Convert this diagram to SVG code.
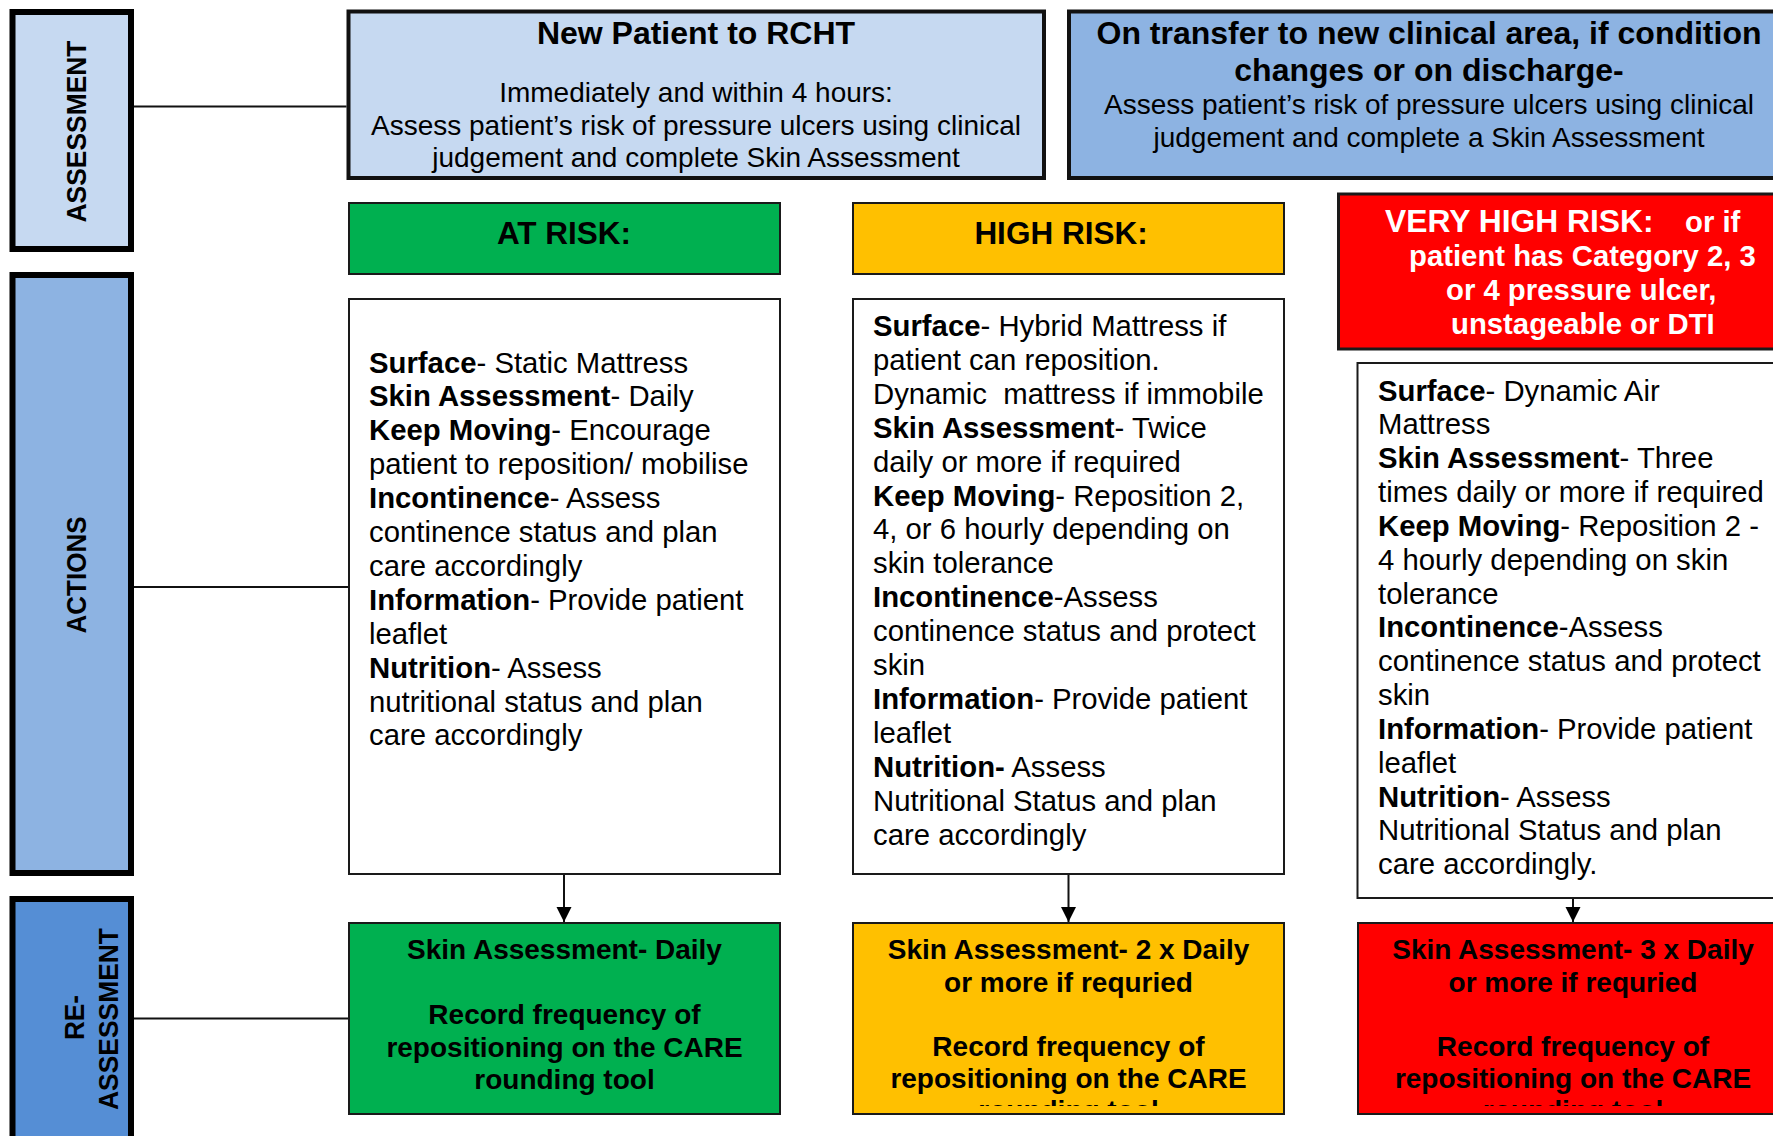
<svg xmlns="http://www.w3.org/2000/svg" width="1773" height="1136" viewBox="0 0 1773 1136">
  <style>
    text { font-family: "Liberation Sans", Arial, sans-serif; fill: #000; }
    .b { font-weight: bold; }
    .side { stroke: #000; stroke-width: 6; }
    .top { stroke: #111; stroke-width: 4; }
    .box { stroke: #1a1a1a; stroke-width: 2; }
    .lbl { font-size: 27px; font-weight: bold; text-anchor: middle; }
    .hd { font-size: 28px; text-anchor: middle; }
    .hdb { font-size: 32px; font-weight: bold; text-anchor: middle; }
    .risk { font-size: 31.5px; font-weight: bold; text-anchor: middle; }
    .body { font-size: 29.3px; }
    .out { font-size: 28px; font-weight: bold; text-anchor: middle; }
    .wh { fill: #fff; font-weight: bold; font-size: 29.3px; }
    .conn { stroke: #111; stroke-width: 2; fill: none; }
  </style>
  <defs>
    <marker id="arrow" markerUnits="userSpaceOnUse" markerWidth="16" markerHeight="16" refX="15" refY="7.5" orient="auto">
      <path d="M0,0 L15,7.5 L0,15 z" fill="#000"/>
    </marker>
    <clipPath id="clipOrange"><rect x="852" y="923" width="433" height="183"/></clipPath>
    <clipPath id="clipRed"><rect x="1357" y="923" width="430" height="183"/></clipPath>
  </defs>

  <rect width="1773" height="1136" fill="#fff"/>

  <!-- stage labels down the left edge -->
  <g id="stage-assessment">
    <rect class="side" x="12.5" y="12" width="118.5" height="237" fill="#c6d9f1"/>
    <text class="lbl" transform="translate(85.5,131.5) rotate(-90)" textLength="182" lengthAdjust="spacingAndGlyphs">ASSESSMENT</text>
  </g>
  <g id="stage-actions">
    <rect class="side" x="12.5" y="275" width="118.5" height="598" fill="#8db3e2"/>
    <text class="lbl" transform="translate(85.5,575) rotate(-90)" textLength="117" lengthAdjust="spacingAndGlyphs">ACTIONS</text>
  </g>
  <g id="stage-reassessment">
    <rect class="side" x="12.5" y="899" width="118.5" height="260" fill="#558ed5"/>
    <text class="lbl" transform="translate(84,1017.5) rotate(-90)" textLength="45" lengthAdjust="spacingAndGlyphs">RE-</text>
    <text class="lbl" transform="translate(117.5,1019) rotate(-90)" textLength="182" lengthAdjust="spacingAndGlyphs">ASSESSMENT</text>
  </g>

  <!-- assessment triggers -->
  <g id="new-patient">
    <rect class="top" x="348.5" y="11.5" width="695.5" height="166.5" fill="#c6d9f1"/>
    <text class="hdb" x="696" y="44">New Patient to RCHT</text>
    <text class="hd" x="696" y="102">Immediately and within 4 hours:</text>
    <text class="hd" x="696" y="134.5">Assess patient’s risk of pressure ulcers using clinical</text>
    <text class="hd" x="696" y="166.5">judgement and complete Skin Assessment</text>
  </g>
  <g id="transfer">
    <rect class="top" x="1069" y="11.5" width="720" height="166.5" fill="#8db3e2"/>
    <text class="hdb" x="1429" y="44">On transfer to new clinical area, if condition</text>
    <text class="hdb" x="1429" y="80.5">changes or on discharge-</text>
    <text class="hd" x="1429" y="114">Assess patient’s risk of pressure ulcers using clinical</text>
    <text class="hd" x="1429" y="146.5">judgement and complete a Skin Assessment</text>
  </g>

  <!-- risk level headers -->
  <g id="at-risk">
    <rect class="box" x="349" y="203" width="431" height="71" fill="#00b050"/>
    <text class="risk" x="564" y="244">AT RISK:</text>
  </g>
  <g id="high-risk">
    <rect class="box" x="853" y="203" width="431" height="71" fill="#ffc000"/>
    <text class="risk" x="1061" y="244">HIGH RISK:</text>
  </g>
  <g id="very-high-risk">
    <rect x="1338.5" y="194" width="460" height="155" fill="#ff0000" stroke="#1a1a1a" stroke-width="3"/>
    <text class="wh" x="1385" y="232"><tspan font-size="31.8px">VERY HIGH RISK:</tspan><tspan x="1685">or if</tspan></text>
    <text class="wh" x="1409" y="266">patient has Category 2, 3</text>
    <text class="wh" x="1446" y="300">or 4 pressure ulcer,</text>
    <text class="wh" x="1451" y="334">unstageable or DTI</text>
  </g>

  <!-- actions for each level -->
  <g id="at-risk-actions">
    <rect class="box" x="349" y="299" width="431" height="575" fill="#fff"/>
    <text class="body" x="369" y="372.5"><tspan class="b">Surface</tspan>- Static Mattress</text>
    <text class="body" x="369" y="406.4"><tspan class="b">Skin Assessment</tspan>- Daily</text>
    <text class="body" x="369" y="440.3"><tspan class="b">Keep Moving</tspan>- Encourage</text>
    <text class="body" x="369" y="474.2">patient to reposition/ mobilise</text>
    <text class="body" x="369" y="508.1"><tspan class="b">Incontinence</tspan>- Assess</text>
    <text class="body" x="369" y="542">continence status and plan</text>
    <text class="body" x="369" y="575.9">care accordingly</text>
    <text class="body" x="369" y="609.8"><tspan class="b">Information</tspan>- Provide patient</text>
    <text class="body" x="369" y="643.7">leaflet</text>
    <text class="body" x="369" y="677.6"><tspan class="b">Nutrition</tspan>- Assess</text>
    <text class="body" x="369" y="711.5">nutritional status and plan</text>
    <text class="body" x="369" y="745.4">care accordingly</text>
  </g>
  <g id="high-risk-actions">
    <rect class="box" x="853" y="299" width="431" height="575" fill="#fff"/>
    <text class="body" x="873" y="336"><tspan class="b">Surface</tspan>- Hybrid Mattress if</text>
    <text class="body" x="873" y="369.9">patient can reposition.</text>
    <text class="body" x="873" y="403.8">Dynamic&#160; mattress if immobile</text>
    <text class="body" x="873" y="437.7"><tspan class="b">Skin Assessment</tspan>- Twice</text>
    <text class="body" x="873" y="471.6">daily or more if required</text>
    <text class="body" x="873" y="505.5"><tspan class="b">Keep Moving</tspan>- Reposition 2,</text>
    <text class="body" x="873" y="539.4">4, or 6 hourly depending on</text>
    <text class="body" x="873" y="573.3">skin tolerance</text>
    <text class="body" x="873" y="607.2"><tspan class="b">Incontinence</tspan>-Assess</text>
    <text class="body" x="873" y="641.1">continence status and protect</text>
    <text class="body" x="873" y="675">skin</text>
    <text class="body" x="873" y="708.9"><tspan class="b">Information</tspan>- Provide patient</text>
    <text class="body" x="873" y="742.8">leaflet</text>
    <text class="body" x="873" y="776.7"><tspan class="b">Nutrition-</tspan> Assess</text>
    <text class="body" x="873" y="810.6">Nutritional Status and plan</text>
    <text class="body" x="873" y="844.5">care accordingly</text>
  </g>
  <g id="very-high-risk-actions">
    <rect class="box" x="1357.5" y="363" width="440" height="535" fill="#fff"/>
    <text class="body" x="1378" y="400.5"><tspan class="b">Surface</tspan>- Dynamic Air</text>
    <text class="body" x="1378" y="434.3">Mattress</text>
    <text class="body" x="1378" y="468.2"><tspan class="b">Skin Assessment</tspan>- Three</text>
    <text class="body" x="1378" y="502">times daily or more if required</text>
    <text class="body" x="1378" y="535.9"><tspan class="b">Keep Moving</tspan>- Reposition 2 -</text>
    <text class="body" x="1378" y="569.7">4 hourly depending on skin</text>
    <text class="body" x="1378" y="603.5">tolerance</text>
    <text class="body" x="1378" y="637.4"><tspan class="b">Incontinence</tspan>-Assess</text>
    <text class="body" x="1378" y="671.2">continence status and protect</text>
    <text class="body" x="1378" y="705.1">skin</text>
    <text class="body" x="1378" y="738.9"><tspan class="b">Information</tspan>- Provide patient</text>
    <text class="body" x="1378" y="772.7">leaflet</text>
    <text class="body" x="1378" y="806.6"><tspan class="b">Nutrition</tspan>- Assess</text>
    <text class="body" x="1378" y="840.4">Nutritional Status and plan</text>
    <text class="body" x="1378" y="874.3">care accordingly.</text>
  </g>

  <!-- reassessment outcomes -->
  <g id="at-risk-review">
    <rect class="box" x="349" y="923" width="431" height="191" fill="#00b050"/>
    <text class="out" x="564.5" y="958.5">Skin Assessment- Daily</text>
    <text class="out" x="564.5" y="1024">Record frequency of</text>
    <text class="out" x="564.5" y="1056.5">repositioning on the CARE</text>
    <text class="out" x="564.5" y="1089">rounding tool</text>
  </g>
  <g id="high-risk-review">
    <rect class="box" x="853" y="923" width="431" height="191" fill="#ffc000"/>
    <g clip-path="url(#clipOrange)">
      <text class="out" x="1068.5" y="959">Skin Assessment- 2 x Daily</text>
      <text class="out" x="1068.5" y="991.5">or more if requried</text>
      <text class="out" x="1068.5" y="1056">Record frequency of</text>
      <text class="out" x="1068.5" y="1088">repositioning on the CARE</text>
      <text class="out" x="1068.5" y="1119.5">rounding tool</text>
    </g>
  </g>
  <g id="very-high-risk-review">
    <rect class="box" x="1358" y="923" width="440" height="191" fill="#ff0000"/>
    <g clip-path="url(#clipRed)">
      <text class="out" x="1573" y="959">Skin Assessment- 3 x Daily</text>
      <text class="out" x="1573" y="991.5">or more if requried</text>
      <text class="out" x="1573" y="1056">Record frequency of</text>
      <text class="out" x="1573" y="1088">repositioning on the CARE</text>
      <text class="out" x="1573" y="1119.5">rounding tool</text>
    </g>
  </g>

  <!-- connectors -->
  <g id="connectors">
    <line class="conn" x1="134" y1="106.5" x2="346.5" y2="106.5"/>
    <line class="conn" x1="134" y1="587" x2="348" y2="587"/>
    <line class="conn" x1="134" y1="1018.5" x2="348" y2="1018.5"/>
    <line class="conn" x1="564" y1="875" x2="564" y2="922" marker-end="url(#arrow)"/>
    <line class="conn" x1="1068.5" y1="875" x2="1068.5" y2="922" marker-end="url(#arrow)"/>
    <line class="conn" x1="1573" y1="899" x2="1573" y2="922" marker-end="url(#arrow)"/>
  </g>
</svg>
